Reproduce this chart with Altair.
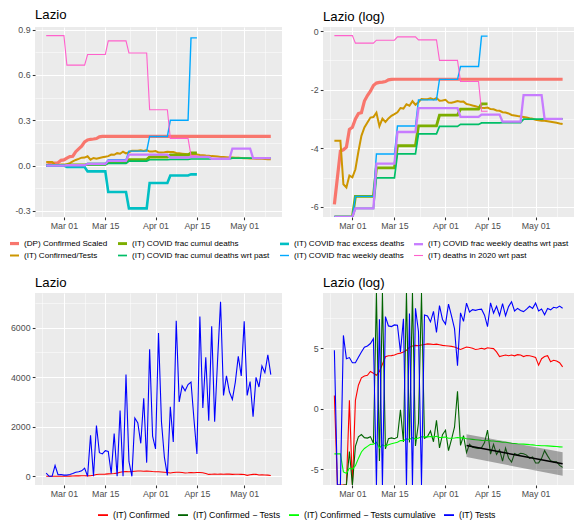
import altair as alt
import pandas as pd
import numpy as np

FONT = "Liberation Sans"

# ---------------- data ----------------
N_DAYS = 77  # 2020-02-24 .. 2020-05-10
dates = pd.date_range("2020-02-24", periods=N_DAYS, freq="D").strftime("%Y-%m-%d").tolist()

confirmed = [3, 0, 0, 0, 0, 2, 0, 2, 7, 13, 15, 16, 22, 19,
             16, 22, 40, 74, 80, 81, 86, 95, 100, 110, 126,
             164, 180, 190, 185, 195, 205, 215, 210, 205, 210, 200, 190, 185,
             180, 175, 165, 150, 135, 150, 165, 160, 150, 135, 140, 150, 140,
             155, 150, 145, 110, 75, 80, 85, 80, 85, 80, 88, 85, 75, 82, 80, 75,
             70, 37, 63, 75, 81, 49, 55, 52, 45, 32]

tests = [126, 0, 0, 433, 63, 69, 45, 45, 71, 110, 164, 181, 221, 330,
         0, 1650, 0, 2050, 950, 900, 1030, 1000, 110, 1720, 0,
         2650, 0, 4100, 600, 0, 2350, 2150, 1330, 3150, 550, 5120, 1620, 1100,
         5780, 2200, 760, 35, 2800, 1380, 6270, 3000, 3650, 3450, 3700, 3800, 2300,
         900, 6440, 2750, 4800, 2240, 6050, 2200, 4700, 7040, 3260, 4050, 3400, 3100, 3800, 4840, 4050,
         6250, 3260, 3820, 2400, 3990, 3600, 4450, 4180, 4900, 4100]

dp_confirmed_scaled = [0.0027, 0.0067, 0.0167, 0.0174, 0.019, 0.035, 0.0376, 0.050, 0.060, 0.062,
                       0.092, 0.111, 0.129, 0.157, 0.170, 0.174, 0.176, 0.179, 0.190, 0.193,
                       0.194, 0.194, 0.194, 0.194, 0.194, 0.194, 0.194, 0.194, 0.194, 0.194,
                       0.194, 0.194, 0.194, 0.194, 0.194, 0.194, 0.194, 0.194, 0.194, 0.194,
                       0.194, 0.194, 0.194, 0.194, 0.194, 0.194, 0.194, 0.194, 0.194, 0.194,
                       0.194, 0.194, 0.194, 0.194, 0.194, 0.194, 0.194, 0.194, 0.194, 0.194,
                       0.194, 0.194, 0.194, 0.194, 0.194, 0.194, 0.194, 0.194, 0.194, 0.194,
                       0.194, 0.194, 0.194, 0.194, 0.194, 0.194, 0.194]

# weekly values (weeks start on Mondays, first week = 2020-02-24)
weekly_deaths_frac = [0.0, 0.00355, 0.0151, 0.0392, 0.096, 0.193, 0.300, 0.845]
cumul_deaths_frac = [0.0, 0.00355, 0.0094, 0.0200, 0.0395, 0.0570, 0.0700, 0.0835]
excess_deaths_frac = [0.0, -0.009, -0.038, -0.175, -0.283, -0.115, -0.065, -0.058]
deaths_2020_wrt_past = [0.86, 0.665, 0.735, 0.825, 0.745, 0.370, 0.180, 0.065]
weekly_deaths_wrt_past = [0.0, 0.00236, 0.0109, 0.0320, 0.0725, 0.0725, 0.0535, 0.0580, 0.0455, 0.113, 0.050]
cumul_deaths_wrt_past = [0.0, 0.00236, 0.0067, 0.0152, 0.0300, 0.0388, 0.0415, 0.0437, 0.0441, 0.0497, 0.0502]
SHORT_DAYS = 52  # the 2020-deaths based series stop on 2020-04-15

S_DP = "(DP) Confirmed Scaled"
S_CT = "(IT) Confirmed/Tests"
S_CD = "(IT) COVID frac cumul deaths"
S_CDP = "(IT) COVID frac cumul deaths wrt past"
S_EX = "(IT) COVID frac excess deaths"
S_WD = "(IT) COVID frac weekly deaths"
S_WDP = "(IT) COVID frac weekly deaths wrt past"
S_D20 = "(IT) deaths in 2020 wrt past"

# legend order (row-major, 4 columns) and colours
top_legend_order = [S_DP, S_CD, S_EX, S_WDP, S_CT, S_CDP, S_WD, S_D20]
top_colors = ["#F8766D", "#7CAE00", "#00BFC4", "#C77CFF", "#CD9600", "#00BE67", "#00A9FF", "#FF61CC"]
top_widths = [3.2, 1.1, 1.1, 1.1, 1.1, 1.1, 1.1, 1.1]

B_C = "(IT) Confirmed"
B_CT = "(IT) Confirmed \u2212 Tests"
B_CTC = "(IT) Confirmed \u2212 Tests cumulative"
B_T = "(IT) Tests"
bottom_order = [B_C, B_CT, B_CTC, B_T]
bottom_colors = ["#FF0000", "#006400", "#00FF00", "#0000FF"]

# linear fit on log(Confirmed) - log(Tests), 2020-04-08 .. 2020-05-10
fit_dates = ["2020-04-08", "2020-05-10"]
fit_mid = [-3.05, -4.55]
fit_lo = [-4.00, -5.55]
fit_hi = [-2.10, -3.60]

# ---------------- tables ----------------
cum_ratio = (np.cumsum(confirmed) / np.cumsum(tests)).tolist()

rows = []
def add_daily(name, values):
    for d, v in zip(dates, values):
        rows.append({"date": d, "series": name, "value": v})

def add_weekly(name, weekly, n):
    for i in range(n):
        rows.append({"date": dates[i], "series": name, "value": weekly[i // 7]})

# drawing order as in the original (alphabetical factor order)
add_daily(S_DP, dp_confirmed_scaled)
add_daily(S_CT, cum_ratio)
add_weekly(S_CD, cumul_deaths_frac, SHORT_DAYS)
add_weekly(S_CDP, cumul_deaths_wrt_past, N_DAYS)
add_weekly(S_EX, excess_deaths_frac, SHORT_DAYS)
add_weekly(S_WD, weekly_deaths_frac, SHORT_DAYS)
add_weekly(S_WDP, weekly_deaths_wrt_past, N_DAYS)
add_weekly(S_D20, deaths_2020_wrt_past, SHORT_DAYS)
top_df = pd.DataFrame(rows)

day_df = pd.DataFrame({"date": dates, "confirmed": confirmed, "tests": tests})
fit_df = pd.DataFrame({"date": fit_dates, "mid": fit_mid, "lo": fit_lo, "hi": fit_hi})

# ---------------- axes ----------------
def dt(m, d, h=0):
    return alt.DateTime(year=2020, month=m, date=d, hours=h, utc=True)

x_scale = alt.Scale(type="utc", domain=[dt(2, 20, 5), dt(5, 13, 19)])
x_values = [dt(2, 22, 12), dt(3, 1), dt(3, 8), dt(3, 15), dt(3, 23, 12), dt(4, 1),
            dt(4, 8), dt(4, 15), dt(4, 23), dt(5, 1), dt(5, 8)]
X_MAJOR = "utcdate(datum.value) == 1 || utcdate(datum.value) == 15"


def cond(test, a, b):
    return {"condition": {"test": test, "value": a}, "value": b}


def x_axis():
    return alt.Axis(values=x_values, title=None,
                    labelExpr="(" + X_MAJOR + ") ? utcFormat(datum.value, '%b %d') : ''",
                    gridWidth=cond(X_MAJOR, 1.07, 0.53),
                    tickOpacity=cond(X_MAJOR, 1, 0),
                    labelFlush=False, labelOverlap=False)


def y_axis(values, major_test, fmt, extent):
    lab = ("(" + major_test + ") ? (datum.value < 0 ? '-' + format(-datum.value, '" + fmt +
           "') : format(datum.value, '" + fmt + "')) : ''")
    return alt.Axis(values=values, title=None, labelExpr=lab,
                    gridWidth=cond(major_test, 1.07, 0.53),
                    tickOpacity=cond(major_test, 1, 0),
                    labelOverlap=False, labelFlush=False,
                    minExtent=extent, maxExtent=extent)


X = alt.X("date:T", scale=x_scale, axis=x_axis())

H1 = 190
H2 = 192
W_L = 247
W_R = 251

top_legend = alt.Legend(title=None, orient="none", legendX=-27, legendY=210, columns=4,
                        direction="horizontal", symbolType="stroke", symbolSize=81,
                        labelLimit=400, rowPadding=0, columnPadding=4, labelOffset=3,
                        labelFontSize=8.1)
top_color_scale = alt.Scale(domain=top_legend_order, range=top_colors)
top_width_scale = alt.Scale(domain=top_legend_order, range=top_widths)

tl = alt.Chart(top_df).mark_line(clip=True).encode(
    x=X,
    y=alt.Y("value:Q", scale=alt.Scale(domain=[-0.34, 0.917], nice=False, zero=False),
            axis=y_axis([-0.3, -0.15, 0.0, 0.15, 0.3, 0.45, 0.6, 0.75, 0.9],
                        "abs(datum.value / 0.3 - round(datum.value / 0.3)) < 0.001", ".1f", 27)),
    color=alt.Color("series:N", scale=top_color_scale, legend=top_legend),
    strokeWidth=alt.StrokeWidth("series:N", scale=top_width_scale, legend=top_legend),
).properties(width=W_L, height=H1, title="Lazio")

tr = alt.Chart(top_df).transform_calculate(
    lv="datum.value > 0 ? log(datum.value) : (datum.value == 0 ? -1e9 : NaN)"
).mark_line(clip=True).encode(
    x=X,
    y=alt.Y("lv:Q", scale=alt.Scale(domain=[-6.345, 0.144], nice=False, zero=False, clamp=True),
            axis=y_axis([-6, -5, -4, -3, -2, -1, 0], "datum.value % 2 == 0", "d", 24)),
    color=alt.Color("series:N", scale=top_color_scale, legend=None),
    strokeWidth=alt.StrokeWidth("series:N", scale=top_width_scale, legend=None),
).properties(width=W_R, height=H1, title="Lazio (log)")

top_row = alt.hconcat(tl, tr, spacing=41, bounds="flush").resolve_scale(
    color="independent", strokeWidth="independent")

bottom_legend = alt.Legend(title=None, orient="none", legendX=62, legendY=216, columns=4,
                           direction="horizontal", symbolType="stroke", symbolSize=100,
                           symbolStrokeWidth=1.8, labelLimit=400, columnPadding=4, labelOffset=4,
                           labelFontSize=8.8)
bottom_color_scale = alt.Scale(domain=bottom_order, range=bottom_colors)

bl = alt.Chart(day_df).transform_calculate(
    **{B_C: "datum.confirmed", B_T: "datum.tests"}
).transform_fold([B_C, B_T], as_=["series", "val"]).mark_line(clip=True, strokeWidth=1.1).encode(
    x=X,
    y=alt.Y("val:Q", scale=alt.Scale(domain=[-352, 7392], nice=False, zero=False),
            axis=y_axis([0, 1000, 2000, 3000, 4000, 5000, 6000, 7000], "datum.value % 2000 == 0", "d", 27)),
    color=alt.Color("series:N", scale=bottom_color_scale, legend=bottom_legend),
).properties(width=W_L, height=H2, title="Lazio")

br_y_scale = alt.Scale(domain=[-6.31, 9.58], nice=False, zero=False, clamp=True)
br_y_axis = y_axis([-5, -2.5, 0, 2.5, 5, 7.5], "datum.value % 5 == 0", "d", 24)

br_lines = alt.Chart(day_df).transform_window(
    cc="sum(confirmed)", ct="sum(tests)", sort=[alt.SortField("date")]
).transform_calculate(
    **{
        B_C: "datum.confirmed > 0 ? log(datum.confirmed) : -1e9",
        B_CT: "datum.tests > 0 ? (datum.confirmed > 0 ? log(datum.confirmed) - log(datum.tests) : -1e9)"
              " : (datum.confirmed > 0 ? 1e9 : NaN)",
        B_CTC: "log(datum.cc) - log(datum.ct)",
        B_T: "datum.tests > 0 ? log(datum.tests) : -1e9",
    }
).transform_fold(bottom_order, as_=["series", "lv"]).mark_line(clip=True, strokeWidth=1.1).encode(
    x=X,
    y=alt.Y("lv:Q", scale=br_y_scale, axis=br_y_axis),
    color=alt.Color("series:N", scale=bottom_color_scale, legend=None),
)

br_band = alt.Chart(fit_df).mark_area(color="#333333", opacity=0.4, clip=True).encode(
    x=X, y=alt.Y("lo:Q", scale=br_y_scale, axis=br_y_axis), y2="hi:Q"
)
br_fit = alt.Chart(fit_df).mark_line(color="black", strokeWidth=1.5, clip=True).encode(
    x=X, y=alt.Y("mid:Q", scale=br_y_scale, axis=br_y_axis)
)

br = alt.layer(br_lines, br_band, br_fit).properties(width=W_R, height=H2, title="Lazio (log)")

bottom_row = alt.hconcat(bl, br, spacing=41, bounds="flush").resolve_scale(color="independent")

chart = alt.vconcat(top_row, bottom_row, spacing=15).resolve_scale(
    color="independent", strokeWidth="independent"
).properties(
    padding={"left": 0, "top": 0, "right": 0, "bottom": 0}
).configure_view(
    fill="#EBEBEB", strokeWidth=0
).configure_axis(
    domain=False, labelFont=FONT, labelFontSize=8.8, labelColor="#4D4D4D",
    tickColor="#333333", tickSize=2.75, tickWidth=1.07, labelPadding=2.2,
    gridColor="#FFFFFF"
).configure_title(
    font=FONT, fontSize=13.2, fontWeight="normal", anchor="start", frame="group",
    color="black", offset=3
).configure_legend(
    labelFont=FONT, labelColor="black", padding=0
)

chart.save("out.html", embed_options={"renderer": "svg", "actions": False})
